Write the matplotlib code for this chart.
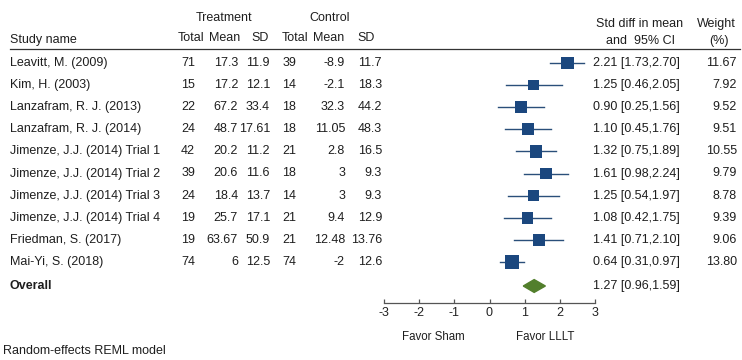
import matplotlib
matplotlib.use("Agg")
import matplotlib.pyplot as plt
from matplotlib import transforms
from matplotlib.patches import Polygon

plt.rcParams['font.family'] = ['Liberation Sans', 'DejaVu Sans']

studies = ["Leavitt, M. (2009)", "Kim, H. (2003)", "Lanzafram, R. J. (2013)",
           "Lanzafram, R. J. (2014)", "Jimenze, J.J. (2014) Trial 1",
           "Jimenze, J.J. (2014) Trial 2", "Jimenze, J.J. (2014) Trial 3",
           "Jimenze, J.J. (2014) Trial 4", "Friedman, S. (2017)", "Mai-Yi, S. (2018)"]
t_total = ["71", "15", "22", "24", "42", "39", "24", "19", "19", "74"]
t_mean = ["17.3", "17.2", "67.2", "48.7", "20.2", "20.6", "18.4", "25.7", "63.67", "6"]
t_sd = ["11.9", "12.1", "33.4", "17.61", "11.2", "11.6", "13.7", "17.1", "50.9", "12.5"]
c_total = ["39", "14", "18", "18", "21", "18", "14", "21", "21", "74"]
c_mean = ["-8.9", "-2.1", "32.3", "11.05", "2.8", "3", "3", "9.4", "12.48", "-2"]
c_sd = ["11.7", "18.3", "44.2", "48.3", "16.5", "9.3", "9.3", "12.9", "13.76", "12.6"]
smd = [2.21, 1.25, 0.90, 1.10, 1.32, 1.61, 1.25, 1.08, 1.41, 0.64]
lo = [1.73, 0.46, 0.25, 0.45, 0.75, 0.98, 0.54, 0.42, 0.71, 0.31]
hi = [2.70, 2.05, 1.56, 1.76, 1.89, 2.24, 1.97, 1.75, 2.10, 0.97]
weight = [11.67, 7.92, 9.52, 9.51, 10.55, 9.79, 8.78, 9.39, 9.06, 13.80]
overall = (1.27, 0.96, 1.59)
xticks = [-3, -2, -1, 0, 1, 2, 3]

W, H = 742, 360
fig = plt.figure(figsize=(W / 100, H / 100), dpi=100)
fig.patch.set_facecolor('white')

# forest axes: x from pixel 384 to 595, y from pixel 50 (top) to 303 (axis line)
x0, x1 = 384, 595
ytop, ybot = 50, 303
row0, rowstep = 63, 22.1
ax = fig.add_axes([x0 / W, 1 - ybot / H, (x1 - x0) / W, (ybot - ytop) / H])
ax.set_xlim(-3, 3)
ax.set_ylim((ybot - row0) / rowstep, (ytop - row0) / rowstep)
ax.patch.set_alpha(0)
for s in ['top', 'right', 'left']:
    ax.spines[s].set_visible(False)
ax.spines['bottom'].set_color('#555555')
ax.spines['bottom'].set_linewidth(0.9)
ax.set_yticks([])
ax.set_xticks(xticks)
ax.set_xticklabels([str(t) for t in xticks])
ax.tick_params(axis='x', direction='in', length=3, width=0.9, color='#555555',
               labelsize=9, pad=3, labelcolor='#222222')

rows = list(range(len(studies)))
overall_row = (286 - row0) / rowstep

sq_col = '#1b477e'
for r, m, l, h in zip(rows, smd, lo, hi):
    ax.plot([l, h], [r, r], color='#2a4f7a', lw=1.0, zorder=2)
ax.scatter(smd, rows, marker='s', s=[w * 7.5 for w in weight], color=sq_col,
           zorder=3, linewidths=0)

dh = 0.29
est, olo, ohi = overall
ax.add_patch(Polygon([(olo, overall_row), (est, overall_row - dh), (ohi, overall_row),
                      (est, overall_row + dh)], closed=True, color='#527f2c', zorder=3))

tr = transforms.blended_transform_factory(fig.transFigure, ax.transData)
fs = 9
tc = '#1e1e1e'

def fx(px):
    return px / W

cols = [(t_total, 195), (t_mean, 238), (t_sd, 270), (c_total, 296), (c_mean, 345), (c_sd, 382)]
for r in rows:
    ax.text(fx(10), r, studies[r], transform=tr, ha='left', va='center', fontsize=fs, color=tc)
    for arr, xr in cols:
        ax.text(fx(xr), r, arr[r], transform=tr, ha='right', va='center', fontsize=fs, color=tc)
    ax.text(fx(593), r, f"{smd[r]:.2f} [{lo[r]:.2f},{hi[r]:.2f}]", transform=tr,
            ha='left', va='center', fontsize=fs, color=tc)
    ax.text(fx(737), r, f"{weight[r]:.2f}", transform=tr, ha='right', va='center',
            fontsize=fs, color=tc)

ax.text(fx(10), overall_row, "Overall", transform=tr, ha='left', va='center',
        fontsize=fs, fontweight='bold', color=tc)
ax.text(fx(593), overall_row, f"{est:.2f} [{olo:.2f},{ohi:.2f}]", transform=tr,
        ha='left', va='center', fontsize=fs, color=tc)

# headers (figure pixel coords)
def ftext(px, py, s, size=fs, **kw):
    fig.text(px / W, 1 - py / H, s, fontsize=size, color=tc, va='center', **kw)

ftext(224, 18, "Treatment", ha='center')
ftext(330, 18, "Control", ha='center')
ftext(10, 40, "Study name", ha='left')
ftext(191, 38, "Total", ha='center')
ftext(225, 38, "Mean", ha='center')
ftext(260, 38, "SD", ha='center')
ftext(295, 38, "Total", ha='center')
ftext(329, 38, "Mean", ha='center')
ftext(366, 38, "SD", ha='center')
ftext(640, 24, "Std diff in mean", ha='center')
ftext(640, 41, "and  95% CI", ha='center')
ftext(716, 24, "Weight", ha='center')
ftext(719, 41, "(%)", ha='center')
fig.add_artist(plt.Line2D([10 / W, 740 / W], [1 - 49 / H, 1 - 49 / H],
                          transform=fig.transFigure, color='#333333', lw=0.9))

ftext(433, 337, "Favor Sham", size=8.3, ha='center')
ftext(545, 337, "Favor LLLT", size=8.3, ha='center')
ftext(3, 351, "Random-effects REML model", ha='left')

fig.savefig("out.png", dpi=100, facecolor='white')
